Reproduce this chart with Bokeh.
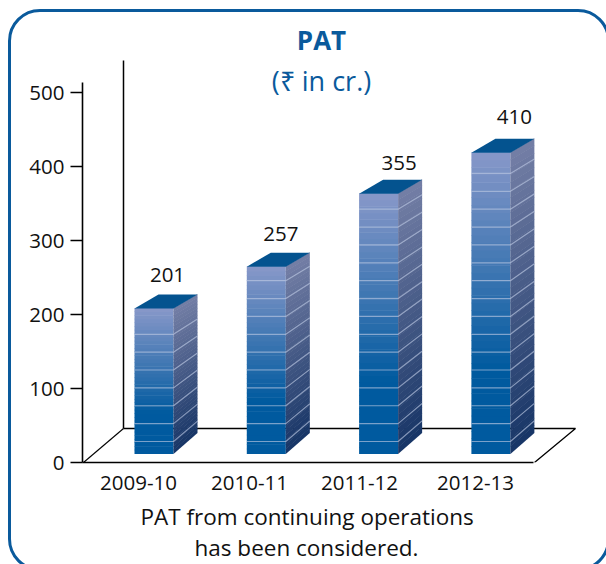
from bokeh.plotting import figure
from bokeh.embed import file_html
from bokeh.resources import INLINE
from bokeh.models import Label, FixedTicker, Range1d, Title, InlineStyleSheet
from bokeh.core.properties import value
import numpy as np

# ---- data ----
categories = ["2009-10", "2010-11", "2011-12", "2012-13"]
pat_values = [201, 257, 355, 410]
y_ticks = [0, 100, 200, 300, 400, 500]
title_main = "PAT"
title_unit = "(₹ in cr.)"
footnote = ["PAT from continuing operations", "has been considered."]

# ---- style / layout ----
FONT = "Open Sans"
BLUE = "#0a5a9c"
W, H = 606, 564
F_L, F_B = 82, 102                # frame insets (px)
PX_Y = 0.74                       # px per axis unit
PX_X = 112.3                      # px per category
X0 = 134                          # px of first bar's left edge
def dx(px): return px / PX_X
def dy(px): return px / PX_Y
def xpx(px): return (px - X0) / PX_X
def ypx(px): return (H - F_B - px) / PX_Y

p = figure(width=W, height=H, output_backend="svg", toolbar_location=None,
           x_range=Range1d(xpx(F_L), xpx(W)), y_range=Range1d(0, ypx(0)),
           min_border_left=F_L, min_border_right=0, min_border_top=0, min_border_bottom=F_B,
           outline_line_color=None, background_fill_color="white", border_fill_color="white")
p.grid.visible = False
p.stylesheets = [InlineStyleSheet(css="""
:host { position: relative; overflow: hidden; }
:host::after { content: ""; position: absolute; left: 7.5px; top: 9px; width: 596px; height: 556px;
  border: 3.5px solid #0a5a9c; border-radius: 32px; pointer-events: none; box-sizing: content-box; }
""")]

# Axes
ya = p.yaxis[0]
ya.ticker = FixedTicker(ticks=y_ticks)
ya.bounds = (0, ypx(82))
ya.axis_line_color = "black"; ya.axis_line_width = 1.6
ya.major_tick_line_color = "black"; ya.major_tick_line_width = 1.6
ya.major_tick_in = 0; ya.major_tick_out = 12
ya.minor_tick_line_color = None
ya.major_label_standoff = 6
ya.major_label_text_font = FONT; ya.major_label_text_font_size = "20.5px"
ya.major_label_text_color = "#111111"

xa = p.xaxis[0]
label_px = [138, 249, 359, 475]
label_pos = [xpx(v) for v in label_px]
xa.ticker = FixedTicker(ticks=label_pos)
xa.major_label_overrides = {pos: c for pos, c in zip(label_pos, categories)}
xa.bounds = (xpx(F_L), xpx(533))
xa.axis_line_color = "black"; xa.axis_line_width = 1.6
xa.major_tick_line_color = None; xa.minor_tick_line_color = None
xa.major_label_standoff = 7
xa.major_label_text_font = FONT; xa.major_label_text_font_size = "20.5px"
xa.major_label_text_color = "#111111"

# 3-D floor and back wall
p.line([xpx(123), xpx(123)], [ypx(428), ypx(60)], line_color="black", line_width=1.5)
p.line([xpx(123), xpx(575), xpx(534)], [ypx(428), ypx(428), ypx(462)], line_color="black", line_width=1.3)
p.line([xpx(83), xpx(123)], [ypx(462), ypx(428)], line_color="black", line_width=1.1)

# Bars
def lerp(c0, c1, t):
    a = np.array([int(c0[i:i+2], 16) for i in (1, 3, 5)], float)
    b = np.array([int(c1[i:i+2], 16) for i in (1, 3, 5)], float)
    r = a + (b - a) * t
    return "#%02x%02x%02x" % tuple(int(round(v)) for v in r)

BAR_W = dx(39)
DEPTH = dx(24)
BASE = ypx(453.5)
N = 40
RUNG0 = 441; RUNG_STEP = 17.87
value_label_dx = [33, 34, 40, 43]
value_label_up = [19, 19, 17, 22]

for i, v in enumerate(pat_values):
    top = v * 1.007 + 5.8
    L, R = i, i + BAR_W
    edges = np.linspace(BASE, top, N + 1)
    def front_t(f): return np.clip((f - 0.28) / 0.72, 0, 1)
    p.quad(left=[L] * N, right=[R] * N, bottom=edges[:-1], top=edges[1:] + dy(0.5),
           fill_color=[lerp("#005a9f", "#8898c9", front_t((k + .5) / N)) for k in range(N)],
           line_color=None)
    def back(y):
        f = (y - BASE) / (top - BASE)
        return y + dy(21 - 7 * f)
    xs = [[R, R + DEPTH, R + DEPTH, R] for k in range(N)]
    ys = [[edges[k], back(edges[k]), back(edges[k + 1]) + dy(0.5), edges[k + 1] + dy(0.5)] for k in range(N)]
    p.patches(xs, ys, fill_color=[lerp("#173566", "#747fa6", (k + .5) / N) for k in range(N)], line_color=None)
    p.patch([L, L + DEPTH, R + DEPTH, R], [top, back(top), back(top), top], fill_color="#04538f", line_color=None)
    k = 0
    while True:
        ry = ypx(RUNG0 - RUNG_STEP * k)
        if ry > top - dy(8):
            break
        p.line([L, R, R + DEPTH], [ry, ry, back(ry)], line_color="#bcc8e2", line_alpha=0.65, line_width=1.2)
        k += 1
    p.text([L + dx(value_label_dx[i])], [back(top) + dy(value_label_up[i])], text=[str(v)],
           text_font=value(FONT), text_font_size="20.5px", text_color="#111111",
           text_align="center", text_baseline="alphabetic")

# Titles
def lab(t, x, y, size, color, style="normal"):
    p.add_layout(Label(x=x, y=y, x_units="canvas", y_units="canvas", text=t, level="overlay",
                       text_font=FONT, text_font_size=size, text_color=color,
                       text_font_style=style, text_align="center", text_baseline="middle"))
lab(title_main, 321, 39, "26px", BLUE, "bold")
lab(title_unit, 321, 80, "27px", BLUE)

# spacer between tick labels and the note, then the two lines of the note
p.add_layout(Title(text=" ", text_font=FONT, text_font_size="1px", standoff=4), "below")
for line, st, off in zip(footnote, [-1, -3], [58, 112]):
    p.add_layout(Title(text=line, text_font=FONT, text_font_size="22.5px", text_color="#111111",
                       text_font_style="normal", align="left", offset=off, standoff=st), "below")

open("out.html", "w").write(file_html(p, INLINE))
